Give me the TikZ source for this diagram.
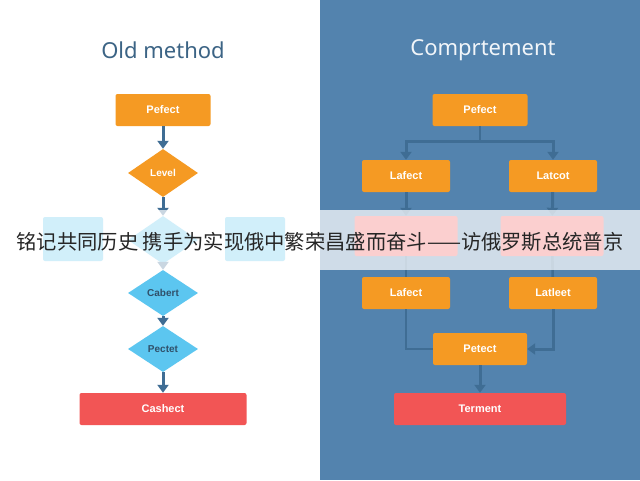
\documentclass[tikz,border=0pt]{standalone}
\usepackage{fontspec}
\setmainfont{Noto Sans}
\newfontfamily\cjk{Noto Sans CJK SC}
\newfontfamily\lbl{Liberation Sans}
\usetikzlibrary{shapes.geometric,arrows.meta}
\definecolor{bluebg}{HTML}{5383AE}
\definecolor{orng}{HTML}{F59A23}
\definecolor{redb}{HTML}{F25555}
\definecolor{cyanb}{HTML}{5CC6F0}
\definecolor{arr}{HTML}{3F6D94}
\definecolor{ttl}{HTML}{3C6485}
\begin{document}
\begin{tikzpicture}[x=1pt,y=-1pt,
 box/.style={rectangle,rounded corners=2pt,minimum height=32pt,text=white,font=\lbl\bfseries\fontsize{11}{13}\selectfont,inner sep=0pt},
 ob/.style={box,fill=orng},
 rb/.style={box,fill=redb},
 dia/.style={diamond,aspect=1.45,inner sep=0pt,minimum width=70pt,minimum height=48pt,font=\lbl\bfseries\fontsize{10}{12}\selectfont},
 ar/.style={draw=arr,line width=3pt,-{Triangle[width=11pt,length=8pt]}},
 ln/.style={draw=arr,line width=2.6pt}]
\useasboundingbox (0,0) rectangle (640,480);
\fill[white] (0,0) rectangle (320,480);
\fill[bluebg] (320,0) rectangle (640,480);
\node[text=ttl,font=\fontsize{22}{26}\selectfont] (t1) at (163,50) {Old method};
\node[text=white!92!bluebg,font=\fontsize{22}{26}\selectfont] (t2) at (483,50) {Comprtement};
% left
\node[ob,minimum width=95pt] (l1) at (163,110) {Pefect};
\node[dia,fill=orng,text=white] (l2) at (163,173) {Level};
\node[dia,fill=cyanb] (l3) at (163,240) {};
\node[box,fill=cyanb,minimum width=60pt,minimum height=44pt] (s1) at (73,239) {};
\node[box,fill=cyanb,minimum width=60pt,minimum height=44pt] (s2) at (255,239) {};
\node[dia,fill=cyanb,text=ttl!80!black,minimum height=46pt] (l4) at (163,293) {Cabert};
\node[dia,fill=cyanb,text=ttl!80!black,minimum height=46pt] (l5) at (163,349) {Pectet};
\node[rb,minimum width=167pt] (l6) at (163,409) {Cashect};
\draw[ar] (l1) -- (l2);
\draw[ar] (l2) -- (l3);
\draw[ar] (l3) -- (l4);
\draw[ar] (l4) -- (l5);
\draw[ar] (l5) -- (l6);
% right
\node[ob,minimum width=95pt] (r1) at (480,110) {Pefect};
\node[ob,minimum width=88pt] (r2) at (406,176) {Lafect};
\node[ob,minimum width=88pt] (r3) at (553,176) {Latcot};
\node[rb,minimum width=103pt,minimum height=40pt] (r4) at (406,236) {};
\node[rb,minimum width=103pt,minimum height=40pt] (r5) at (552,236) {};
\node[ob,minimum width=88pt] (r6) at (406,293) {Lafect};
\node[ob,minimum width=88pt] (r7) at (553,293) {Latleet};
\node[ob,minimum width=94pt] (r8) at (480,349) {Petect};
\node[rb,minimum width=172pt] (r9) at (480,409) {Terment};
\coordinate (sp) at (480,141);
\draw[ln] (r1.south) -- (sp);
\draw[ar] (sp) -| (r2.north);
\draw[ar] (sp) -| (r3.north);
\draw[ar] (r2) -- (r4);
\draw[ar] (r3) -- (r5);
\draw[ln] (r4) -- (r6);
\draw[ln] (r5) -- (r7);
\draw[ln] (r6.south) |- (r8.west);
\draw[ar] (r7.south) |- (r8.east);
\draw[ar] (r8) -- (r9);
% banner
\fill[white,opacity=0.72] (0,210) rectangle (640,270);
\node[font=\cjk\fontsize{20.3}{23}\selectfont,text=black!85,inner sep=0pt] (bn) at (320,242) {铭记共同历史\ 携手为实现俄中繁荣昌盛而奋斗——访俄罗斯总统普京};
\end{tikzpicture}
\end{document}
